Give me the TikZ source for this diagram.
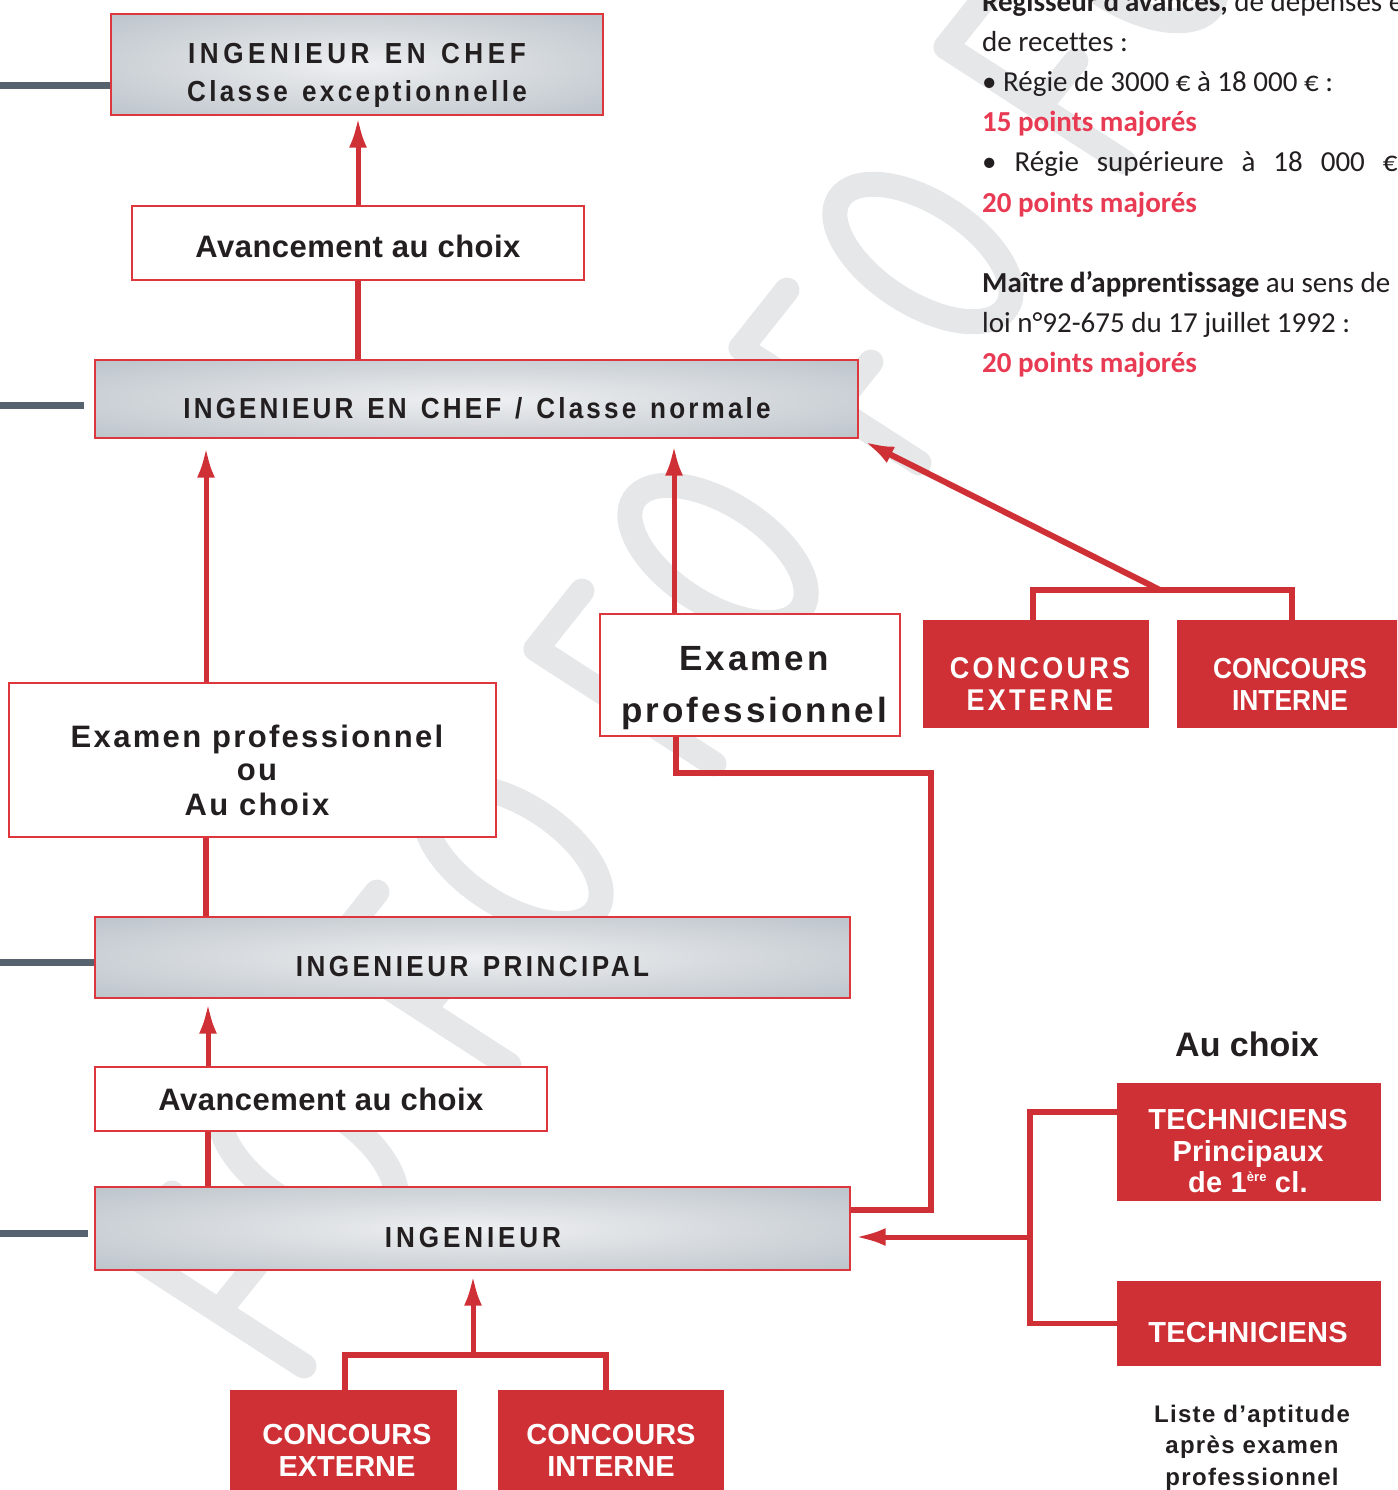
\documentclass[tikz,border=0pt]{standalone}
\usepackage{fontspec}
\usepackage{graphicx}
\setmainfont{Liberation Sans}
\newfontfamily\calib[Ligatures=NoCommon]{Carlito}
\usetikzlibrary{arrows.meta}
\definecolor{fored}{HTML}{CF3035}
\definecolor{boxred}{HTML}{DD363C}
\definecolor{slate}{HTML}{56636E}
\definecolor{ink}{HTML}{231F20}
\definecolor{pinkred}{HTML}{E83A52}
\definecolor{wm}{HTML}{E6E7E9}
\definecolor{stA}{HTML}{EEF0F2}
\definecolor{stB}{HTML}{E0E3E6}
\definecolor{stC}{HTML}{C7CDD3}
\definecolor{stD}{HTML}{A9B2BA}
\pgfdeclareradialshading{steel}{\pgfpoint{0bp}{0bp}}{color(0bp)=(stA); color(10bp)=(stB); color(28bp)=(stC); color(50bp)=(stD); color(75bp)=(stD)}
\newcommand{\ls}[1]{\addfontfeature{LetterSpace=#1}}
\newcommand{\cond}[2]{\scalebox{0.9}[1]{\ls{#1}#2}}
\newcommand{\ws}{\hspace{4pt}}
\begin{document}
\begin{tikzpicture}[x=1pt,y=-1pt,
  wmline/.style={draw=wm, line width=25pt, line cap=round},
  redl/.style={draw=fored, line width=5.5pt},
  arr/.style={draw=fored, line width=5pt, -{Latex[length=30pt,width=18pt]}},
  graybox/.style={draw=boxred, line width=1.3pt, shade, shading=steel, inner sep=0pt},
  whitebox/.style={draw=boxred, line width=1.3pt, fill=white, inner sep=0pt},
  redbox/.style={fill=fored, draw=none, inner sep=0pt},
  lbl/.style={inner sep=0pt, anchor=base, text=ink, font=\bfseries\fontsize{29}{34}\selectfont},
  wlbl/.style={inner sep=0pt, anchor=base, text=white, font=\bfseries\fontsize{29}{34}\selectfont},
  rt/.style={inner sep=0pt, anchor=base west, text=ink, font=\calib\fontsize{29}{40}\selectfont},
  bar/.style={draw=slate, line width=7pt},
]
\useasboundingbox (0,0) rectangle (1397,1490);
\clip (0,0) rectangle (1397,1490);

% watermark
\foreach \k in {-2,...,2} {
  \pgfmathsetmacro\tx{536+205*\k}
  \pgfmathsetmacro\ty{649-301*\k}
  \draw[wmline] (\tx,\ty) -- ++(178,115);
  \draw[wmline] (\tx,\ty) -- ++(46,-58);
  \draw[wmline] (\tx+93,\ty+60) -- ++(37,-46);
  \draw[wmline, rotate around={-33:(\tx+182,\ty-95)}] (\tx+182,\ty-95) ellipse [x radius=100, y radius=50];
}

% boxes
\node[graybox, minimum width=492pt, minimum height=101pt] (top) at (357,64.5) {};
\node[whitebox, minimum width=452pt, minimum height=74pt] (av1) at (358,243) {};
\node[graybox, minimum width=763pt, minimum height=78pt] (chefn) at (476.5,399) {};
\node[whitebox, minimum width=487pt, minimum height=154pt] (exou) at (252.5,760) {};
\node[whitebox, minimum width=300pt, minimum height=122pt] (exam) at (750,675) {};
\node[redbox, minimum width=226pt, minimum height=108pt] (ce1) at (1036,674) {};
\node[redbox, minimum width=226pt, minimum height=108pt] (ci1) at (1290,674) {};
\node[graybox, minimum width=755pt, minimum height=81pt] (princ) at (472.5,957.5) {};
\node[whitebox, minimum width=452pt, minimum height=64pt] (av2) at (321,1099) {};
\node[graybox, minimum width=755pt, minimum height=83pt] (ing) at (472.5,1228.5) {};
\node[redbox, minimum width=264pt, minimum height=118pt] (tp) at (1249,1142) {};
\node[redbox, minimum width=264pt, minimum height=85pt] (tech) at (1249,1323.5) {};
\node[redbox, minimum width=227pt, minimum height=110pt] (ce2) at (343.5,1445) {};
\node[redbox, minimum width=226pt, minimum height=110pt] (ci2) at (611,1445) {};

% left bars
\coordinate (g1) at (0,86);
\coordinate (g2) at (0,405);
\coordinate (g3) at (0,962);
\coordinate (g4) at (0,1233);
\draw[bar] (g1) -- (g1 -| top.west);
\draw[bar, shorten >=10pt] (g2) -- (g2 -| chefn.west);
\draw[bar] (g3) -- (g3 -| princ.west);
\draw[bar, shorten >=6pt] (g4) -- (g4 -| ing.west);

% connectors
\coordinate (xl) at (206,0);
\coordinate (xm) at (674,0);
\coordinate (xb) at (208,0);
\coordinate (xe) at (676,0);
\coordinate (tj) at (1160,590);
\coordinate (tjl) at (1033,0);
\coordinate (tjr) at (1292,0);
\coordinate (bj) at (473,1355);
\coordinate (bjl) at (345,0);
\coordinate (bjr) at (606,0);
\coordinate (jt) at (1030,1237);
\coordinate (ej) at (931,773);

\draw[arr, shorten >=2pt] (av1.north) -- (av1.north |- top.south);
\draw[redl] (av1.south) -- (av1.south |- chefn.north);
\draw[arr, shorten >=9pt] (exou.north -| xl) -- (chefn.south -| xl);
\draw[redl] (princ.north -| xl) -- (exou.south -| xl);
\draw[arr, shorten >=7pt] (exam.north -| xm) -- (chefn.south -| xm);
\draw[redl] (ce1.north -| tjl) |- (tj) -| (ci1.north -| tjr);
\draw[arr, line width=6pt, shorten >=6pt] (tj) -- (chefn.south east);
\draw[redl] (exam.south -| xe) |- (ej) |- ([yshift=18.5pt]ing.east);
\draw[arr, shorten >=5pt] (av2.north -| xb) -- (princ.south -| xb);
\draw[redl] (ing.north -| xb) -- (av2.south -| xb);
\draw[redl] (ce2.north -| bjl) |- (bj) -| (ci2.north -| bjr);
\draw[arr, shorten >=5pt] (bj) -- (ing.south -| bj);
\draw[redl] ([yshift=30pt]tp.west) -| (jt) |- (tech.west);
\draw[arr, shorten >=5pt] (jt) -- (jt -| ing.east);

% labels
\node[lbl] (t1a) at (357,64) {\cond{17.4}{INGENIEUR \ws EN \ws CHEF}};
\node[lbl] (t1b) at (357,102) {\cond{12.8}{Classe \ws exceptionnelle}};
\node[lbl, font=\bfseries\fontsize{31}{36}\selectfont] (av1t) at (358,257) {\ls{1.5}Avancement au choix};
\node[lbl] (chefnt) at (477,418) {\cond{12}{INGENIEUR \ws EN \ws CHEF \ws / \ws Classe \ws normale}};
\node[lbl, font=\bfseries\fontsize{31}{36}\selectfont] (exoua) at (257,747) {\ls{7.5}Examen professionnel};
\node[lbl, font=\bfseries\fontsize{31}{36}\selectfont] (exoub) at (257,780) {\ls{7.5}ou};
\node[lbl, font=\bfseries\fontsize{31}{36}\selectfont] (exouc) at (257,815) {\ls{7.5}Au choix};
\node[lbl, font=\bfseries\fontsize{35}{40}\selectfont] (exama) at (754,670) {\ls{8.6}Examen};
\node[lbl, font=\bfseries\fontsize{35}{40}\selectfont] (examb) at (754,722) {\ls{8.6}professionnel};
\node[wlbl, font=\bfseries\fontsize{30}{34}\selectfont] (ce1a) at (1040,678) {\cond{12}{CONCOURS}};
\node[wlbl, font=\bfseries\fontsize{30}{34}\selectfont] (ce1b) at (1040,710) {\cond{12}{EXTERNE}};
\node[wlbl] (ci1a) at (1290,678) {\scalebox{0.91}[1]{CONCOURS}};
\node[wlbl] (ci1b) at (1290,710) {\scalebox{0.91}[1]{INTERNE}};
\node[lbl] (princt) at (472.5,976) {\cond{13.2}{INGENIEUR \ws PRINCIPAL}};
\node[lbl, font=\bfseries\fontsize{31}{36}\selectfont] (av2t) at (321,1110) {\ls{1.5}Avancement au choix};
\node[lbl] (ingt) at (473,1247) {\cond{14.9}{INGENIEUR}};
\node[wlbl] (tpa) at (1248,1129) {\ls{1}TECHNICIENS};
\node[wlbl] (tpb) at (1248,1161) {\ls{1}Principaux};
\node[wlbl] (tpc) at (1248,1192) {\ls{1}de 1\raisebox{11pt}{\fontsize{13}{13}\selectfont ère} cl.};
\node[wlbl] (techt) at (1248,1342) {\ls{1}TECHNICIENS};
\node[wlbl] (ce2a) at (347,1444) {CONCOURS};
\node[wlbl] (ce2b) at (347,1476) {EXTERNE};
\node[wlbl] (ci2a) at (611,1444) {CONCOURS};
\node[wlbl] (ci2b) at (611,1476) {INTERNE};
\node[lbl, font=\bfseries\fontsize{34}{40}\selectfont] (auchoix) at (1247,1056) {Au choix};
\node[lbl, font=\bfseries\fontsize{24}{30}\selectfont] (lia) at (1252,1422) {\ls{5.5}Liste d’aptitude};
\node[lbl, font=\bfseries\fontsize{24}{30}\selectfont] (lib) at (1252,1453) {\ls{5.5}après examen};
\node[lbl, font=\bfseries\fontsize{24}{30}\selectfont] (lic) at (1252,1485) {\ls{5.5}professionnel};

% right column text
\node[rt] (r1) at (982,12) {\textbf{Régisseur d’avances,} de dépenses et};
\node[rt] (r2) at (982,52) {de recettes :};
\node[rt] (r3) at (982,92) {• Régie de 3000 € à 18 000 € :};
\node[rt, text=pinkred] (r4) at (982,132) {\textbf{15 points majorés}};
\node[rt] (r5) at (982,172) {\makebox[441pt][s]{• Régie supérieure à 18 000 € :}};
\node[rt, text=pinkred] (r6) at (982,212) {\textbf{20 points majorés}};
\node[rt] (r7) at (982,292) {\textbf{Maître d’apprentissage} au sens de la};
\node[rt] (r8) at (982,332) {loi n°92-675 du 17 juillet 1992 :};
\node[rt, text=pinkred] (r9) at (982,372) {\textbf{20 points majorés}};
\end{tikzpicture}
\end{document}
